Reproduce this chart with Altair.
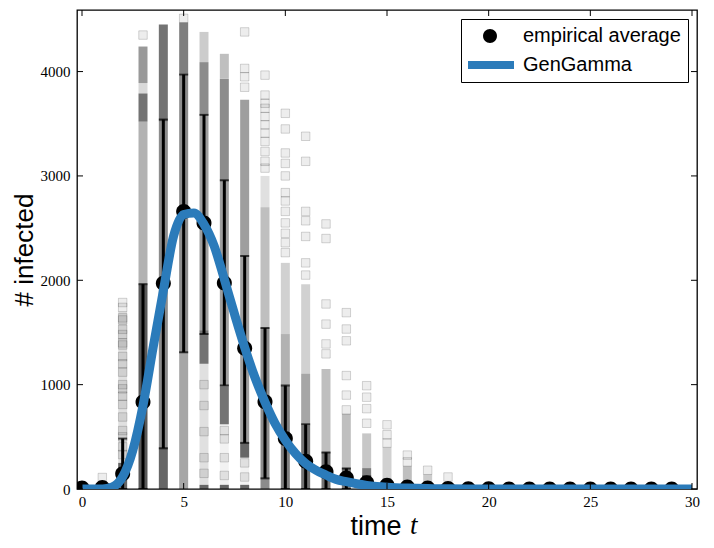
import altair as alt
import pandas as pd

# ---------------- data ----------------
times = list(range(30))
avg = [10, 15, 145, 833, 1972, 2660, 2550, 1975, 1349, 835, 483, 265, 165, 105, 60,
       35, 20, 10, 5, 3, 2, 1, 0, 0, 0, 0, 0, 0, 0, 0]
err_lo = [10, 0, 0, 0, 390, 1310, 1485, 992, 442, 102, 0, 0, 0, 0, 0,
          0, 0, 0, 0, 0, 0, 0, 0, 0, 0, 0, 0, 0, 0, 0]
err_hi = [10, 50, 483, 1963, 3540, 3972, 3585, 2958, 2233, 1543, 992, 620, 350, 197, 120,
          75, 45, 25, 12, 6, 4, 2, 1, 0, 0, 0, 0, 0, 0, 0]

fit_t = [0, 0.5, 1, 1.5, 2, 2.5, 3, 3.5, 4, 4.5, 5, 5.5, 6, 6.5, 7, 7.5, 8, 8.5, 9, 9.5,
         10, 10.5, 11, 11.5, 12, 12.5, 13, 13.5, 14, 14.5, 15, 16, 17, 18, 19, 20, 22, 25, 30]
fit_v = [0, 0, 0, 20, 117, 372, 800, 1358, 1900, 2420, 2630, 2645, 2536, 2328, 2010, 1676,
         1358, 1072, 833, 627, 468, 341, 245, 181, 134, 92, 70, 50, 35, 25, 18, 9, 4, 2, 1,
         0.5, 0, 0, 0]

# density bands of the simulated samples (time, low, high, darkness)
band_t = [0, 1, 2, 2, 3, 3, 3, 3, 3, 4, 4, 4, 5, 5, 5, 6, 6, 6, 6, 6, 6,
          7, 7, 7, 7, 7, 7, 8, 8, 8, 8, 9, 9, 9, 10, 10, 10, 11, 11, 11,
          12, 12, 13, 13, 14, 14, 15, 15, 16, 17, 18, 19]
band_lo = [0, 0, 0, 250, 0, 1960, 3520, 3790, 3890, 0, 400, 3520, 0, 1300, 3980,
           0, 40, 1200, 1520, 3580, 4090, 0, 40, 620, 980, 2950, 3930, 0, 40, 300, 440,
           0, 1546, 2700, 0, 990, 1485, 0, 610, 1103, 0, 353, 0, 200, 0, 200, 0, 100,
           0, 0, 0, 0]
band_hi = [15, 40, 250, 1700, 1960, 3520, 3790, 3890, 4240, 400, 3520, 4450, 1300, 3980, 4470,
           40, 1200, 1520, 3580, 4090, 4380, 40, 620, 980, 2950, 3930, 4170, 40, 300, 440, 3730,
           1546, 2700, 3000, 990, 1485, 2167, 610, 1103, 1963, 353, 1150, 200, 720, 200, 533,
           100, 400, 220, 140, 60, 30]
band_shade = [0.6, 0.5, 0.6, 0.12, 0.65, 0.3, 0.55, 0.15, 0.4, 0.6, 0.45, 0.55, 0.35, 0.45, 0.5,
              0.6, 0.12, 0.55, 0.38, 0.45, 0.2, 0.6, 0.05, 0.55, 0.38, 0.45, 0.25, 0.6, 0.05, 0.6, 0.38,
              0.45, 0.25, 0.12, 0.5, 0.3, 0.18, 0.55, 0.35, 0.18, 0.55, 0.25, 0.55, 0.25, 0.5, 0.22,
              0.45, 0.18, 0.25, 0.2, 0.15, 0.12]

# individual (sparse) simulated samples
samp_t = ([1] + [2] * 20 + [3, 5] + [6] * 5 + [7] * 4 + [8] * 6 + [9] * 11 + [10] * 12
          + [11] * 7 + [12] * 6 + [13] * 6 + [14] * 4 + [15] * 3 + [16] * 2 + [17, 18])
samp_v = [110,
          1787, 1740, 1640, 1620, 1530, 1480, 1400, 1380, 1270, 1200, 1120, 1000, 960, 890,
          810, 690, 560, 500, 404, 330,
          4350, 4510,
          1000, 800, 550, 300, 150,
          560, 480, 300, 130,
          4380, 4030, 3950, 3850, 250, 115,
          3966, 3775, 3696, 3648, 3569, 3490, 3410, 3330, 3234, 3140, 3075,
          3600, 3450, 3220, 3120, 3000, 2840, 2760, 2660, 2550, 2450, 2360, 2265,
          3380, 3140, 2660, 2570, 2420, 2167, 2050,
          2540, 2400, 1773, 1580, 1390, 1295,
          1690, 1533, 1420, 1087, 900, 758,
          990, 880, 770, 630,
          615, 520, 440,
          325, 260,
          180, 115]

series_names = ["empirical average", "GenGamma"]
x_ticks = [0, 5, 10, 15, 20, 25, 30]
y_ticks = [0, 1000, 2000, 3000, 4000]
x_title = "time"
x_title_var = ["t"]
y_title = "# infected"

# ---------------- tables ----------------
df_avg = pd.DataFrame({"t": times, "v": avg, "series": series_names[0]})
df_err = pd.DataFrame({"t": times, "v": err_lo, "v2": err_hi})
df_caps = pd.DataFrame({"t": times + times, "v": err_lo + err_hi})
df_fit = pd.DataFrame({"t": fit_t, "v": fit_v})
df_band = pd.DataFrame({"t": band_t, "v": band_lo, "v2": band_hi, "shade": band_shade})
df_samp = pd.DataFrame({"t": samp_t, "v": samp_v})
df_xt = pd.DataFrame({"t": x_ticks})
df_yt = pd.DataFrame({"v": y_ticks})
df_var = pd.DataFrame({"s": x_title_var})

W, H = 620, 479
BLUE = "#2b7bba"
# legend / marker symbols (unit box -1..1): a disc and a thick horizontal bar
DISC = "M0.29,0A0.29,0.29 0 1,1 -0.29,0A0.29,0.29 0 1,1 0.29,0Z"
BAR = "M-1,-0.17H1V0.17H-1Z"

xscale = alt.Scale(domain=[0, 30], nice=False, zero=False)
yscale = alt.Scale(domain=[0, 4590], nice=False, zero=False)

xaxis = alt.Axis(values=x_ticks, ticks=False, domain=False, grid=False, format="d",
                 labelFont="Liberation Serif", labelFontSize=15, labelColor="black",
                 labelPadding=5, titleFont="Liberation Sans", titleFontSize=27,
                 titleFontWeight="normal", titleColor="black",
                 titleX=273, titleY=45, titleAlign="left", titleBaseline="alphabetic")
yaxis = alt.Axis(values=y_ticks, ticks=False, domain=False, grid=False, format="d",
                 labelFont="Liberation Serif", labelFontSize=15, labelColor="black",
                 labelPadding=7, titleFont="Liberation Sans", titleFontSize=26,
                 titleFontWeight="normal", titleColor="black",
                 titleX=-45, titleY=H / 2, titleAngle=270, titleAlign="center",
                 titleBaseline="alphabetic")


def X(field="t"):
    return alt.X(f"{field}:Q", scale=xscale, axis=xaxis, title=x_title)


def Y(field="v"):
    return alt.Y(f"{field}:Q", scale=yscale, axis=yaxis, title=y_title)


legend = alt.Legend(
    title=None, orient="top-right", offset=9, padding=7, rowPadding=9,
    strokeColor="black", fillColor="white", cornerRadius=0,
    labelFont="Liberation Sans", labelFontSize=20, labelColor="black",
    symbolSize=2304, symbolOffset=-2, labelOffset=9, clipHeight=20,
    symbolOpacity=1, symbolStrokeWidth=0,
)
color = alt.Color("series:N", scale=alt.Scale(domain=series_names, range=["black", BLUE]),
                  legend=legend)
shape = alt.Shape("series:N", scale=alt.Scale(domain=series_names, range=[DISC, BAR]),
                  legend=legend)

bands = alt.Chart(df_band).mark_bar(width=9, color="black", clip=True).encode(
    x=X(), y=Y(), y2="v2:Q", opacity=alt.Opacity("shade:Q", scale=None, legend=None))

samples = alt.Chart(df_samp).mark_square(
    size=72, filled=True, fill="black", fillOpacity=0.07, stroke="black",
    strokeOpacity=0.16, strokeWidth=1, clip=True).encode(x=X(), y=Y())

errs = alt.Chart(df_err).mark_rule(color="black", strokeWidth=3, clip=True).encode(
    x=X(), y=Y(), y2="v2:Q")
caps = alt.Chart(df_caps).mark_tick(color="black", thickness=2, size=9,
                                    orient="horizontal", clip=True).encode(x=X(), y=Y())

dots = alt.Chart(df_avg).mark_point(filled=True, size=2675, opacity=1, strokeWidth=0,
                                    clip=True).encode(x=X(), y=Y(), color=color, shape=shape)

fit = alt.Chart(df_fit).mark_line(strokeWidth=9, color=BLUE, interpolate="monotone",
                                  clip=True).encode(x=X(), y=Y())

tick_b = alt.Chart(df_xt).mark_rule(color="black", strokeWidth=1).encode(
    x=X(), y=alt.value(H), y2=alt.value(H - 6))
tick_t = alt.Chart(df_xt).mark_rule(color="black", strokeWidth=1).encode(
    x=X(), y=alt.value(0), y2=alt.value(6))
tick_l = alt.Chart(df_yt).mark_rule(color="black", strokeWidth=1).encode(
    y=Y(), x=alt.value(0), x2=alt.value(6))
tick_r = alt.Chart(df_yt).mark_rule(color="black", strokeWidth=1).encode(
    y=Y(), x=alt.value(W - 6), x2=alt.value(W))

# italic variable "t" completing the x-axis title "time t"
title_var = alt.Chart(df_var).mark_text(
    font="Liberation Serif", fontStyle="italic", fontSize=27, color="black",
    align="left", baseline="alphabetic").encode(
    text="s:N", x=alt.value(333), y=alt.value(H + 45))

chart = alt.layer(bands, samples, errs, caps, dots, fit, tick_b, tick_t, tick_l, tick_r,
                  title_var).properties(
    width=W, height=H,
    autosize=alt.AutoSizeParams(type="none"),
    padding={"left": 69, "top": 2, "right": 8, "bottom": 51},
    background="white",
).configure_view(stroke="black", strokeWidth=1.3)

chart.save("out.html", embed_options={"renderer": "svg", "actions": False})
